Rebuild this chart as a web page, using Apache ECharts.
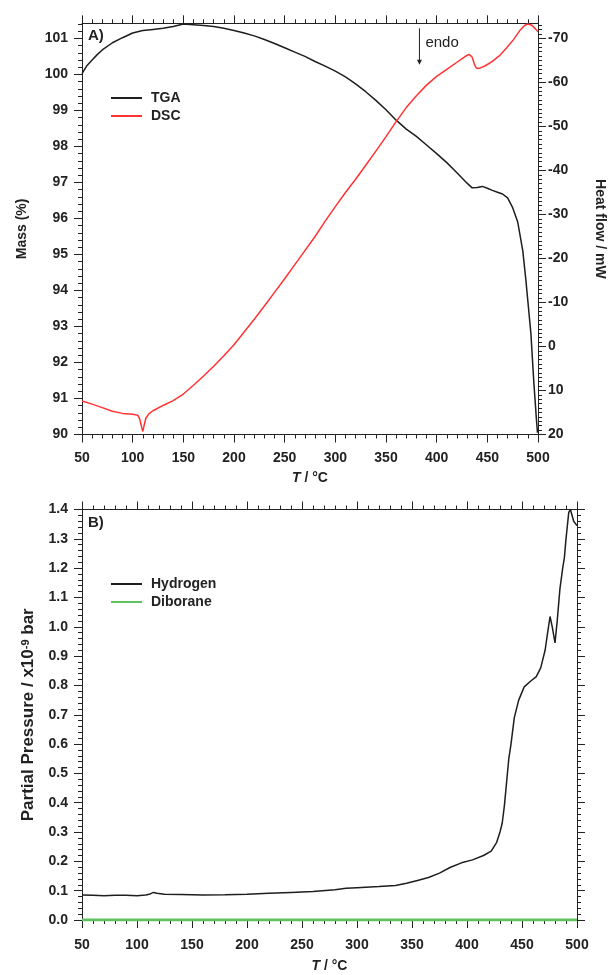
<!DOCTYPE html>
<html><head><meta charset="utf-8">
<script src="https://cdn.jsdelivr.net/npm/echarts@6/dist/echarts.min.js"></script>
<style>html,body{margin:0;padding:0;background:#fff}#c{width:615px;height:975px}</style>
</head><body><div id="c"></div>
<script>
// ---- data ----
const tgaTemp = [50,55,60,65,70,80,90,100,110,120,130,140,150,160,170,180,190,200,210,220,230,240,250,260,270,280,290,300,310,320,330,340,350,360,370,380,390,400,410,420,430,435,440,445,450,455,460,465,470,475,480,485,488,490,493,496,498.5,499.5];
const tgaMass = [100.02,100.25,100.40,100.55,100.68,100.88,101.02,101.15,101.22,101.25,101.28,101.33,101.40,101.38,101.36,101.33,101.28,101.22,101.15,101.07,100.97,100.86,100.74,100.62,100.50,100.36,100.23,100.09,99.93,99.74,99.52,99.28,99.02,98.73,98.48,98.28,98.04,97.80,97.55,97.27,96.98,96.85,96.86,96.89,96.84,96.78,96.73,96.68,96.57,96.30,95.90,95.10,94.30,93.70,92.80,91.40,90.40,90.05];

const dscTemp = [50,60,70,80,90,100,105,107,109,110,111,113,116,120,130,140,150,160,170,180,190,200,210,220,230,240,250,260,270,280,290,300,310,320,330,340,350,360,370,380,390,400,410,420,428,432,435,437,439,442,448,455,462,470,476,482,487,490,494,497,500];
const dscHeat = [12.4,13.1,13.9,14.7,15.2,15.4,15.6,16.5,18.5,19.3,18.2,16.3,15.3,14.6,13.4,12.3,10.8,8.8,6.7,4.5,2.1,-0.4,-3.3,-6.2,-9.2,-12.3,-15.4,-18.6,-21.8,-25.0,-28.5,-31.8,-35.0,-38.0,-41.2,-44.4,-47.7,-51.1,-54.3,-57.0,-59.4,-61.4,-63.0,-64.6,-65.9,-66.4,-65.8,-64.3,-63.3,-63.2,-63.8,-64.8,-66.1,-68.1,-69.8,-71.8,-73.0,-73.3,-73.0,-72.3,-71.5];

const h2Temp = [50,60,70,80,90,100,108,112,115,118,125,140,160,180,200,220,240,260,280,290,300,320,335,345,355,365,375,385,395,405,415,422,427,430,432,434,436,438,440,443,447,452,458,463,467,471,473.5,475.5,477.5,480,482,484.5,487,488.5,490,492.5,494,495.5,497,500];
const h2Press = [0.085,0.084,0.083,0.084,0.084,0.083,0.085,0.089,0.094,0.091,0.088,0.087,0.085,0.086,0.088,0.091,0.094,0.097,0.103,0.108,0.110,0.114,0.118,0.125,0.135,0.145,0.160,0.180,0.195,0.205,0.220,0.235,0.265,0.300,0.330,0.390,0.470,0.550,0.600,0.690,0.750,0.795,0.815,0.830,0.860,0.920,0.985,1.035,1.000,0.945,1.020,1.130,1.200,1.235,1.300,1.390,1.400,1.395,1.360,1.345];

const b2h6Temp = [50,100,150,200,250,300,350,400,450,500];
const b2h6Press = [0,0,0,0,0,0,0,0,0,0];

const tempTicks = [50,100,150,200,250,300,350,400,450,500];
const massTicks = [90,91,92,93,94,95,96,97,98,99,100,101];
const heatTicks = [-70,-60,-50,-40,-30,-20,-10,0,10,20];
const pressTicks = [0.0,0.1,0.2,0.3,0.4,0.5,0.6,0.7,0.8,0.9,1.0,1.1,1.2,1.3,1.4];

// ---- helpers ----
function steps(a, b, s) { const r = []; const n = Math.round((b - a) / s); for (let i = 0; i <= n; i++) r.push(+(a + i * s).toFixed(4)); return r; }
const FONT = 'Liberation Sans';
const INK = '#222';
const lbl = {fontFamily: FONT, fontWeight: 'bold', fontSize: 14, color: INK};

function majorAxis(o) {
  return Object.assign({
    type: 'value', scale: true, splitLine: {show: false},
    axisLine: {show: true, onZero: false, lineStyle: {color: INK, width: 1}},
    axisTick: {show: true, inside: false, length: 8, lineStyle: {color: INK}, customValues: o.ticks},
    axisLabel: o.labels ? Object.assign({customValues: o.ticks, margin: o.margin}, lbl, o.fmt ? {formatter: o.fmt} : {}) : {show: false}
  }, o.extra);
}
function minorAxis(o) {
  return Object.assign({
    type: 'value', scale: true, splitLine: {show: false},
    axisLine: {show: false, onZero: false},
    axisTick: {show: true, inside: false, length: 4, lineStyle: {color: INK}, customValues: o.ticks},
    axisLabel: {show: false}
  }, o.extra);
}

const tName = '{it|T} / °C';
const nameStyle = Object.assign({}, lbl, {rich: {it: Object.assign({}, lbl, {fontStyle: 'italic'})}});
const pStyle = Object.assign({}, lbl, {fontSize: 17, rich: {sup: {fontFamily: FONT, fontWeight: 'bold', fontSize: 11, color: INK, verticalAlign: 'top', lineHeight: 12}}});

const xAxes = [
  majorAxis({ticks: tempTicks, labels: true, margin: 17, extra: {gridIndex: 0, position: 'bottom', min: 50, max: 500, name: tName, nameLocation: 'middle', nameGap: 37, nameTextStyle: nameStyle}}),
  minorAxis({ticks: steps(50, 500, 10), extra: {gridIndex: 0, position: 'bottom', min: 50, max: 500}}),
  majorAxis({ticks: tempTicks, labels: false, extra: {gridIndex: 0, position: 'top', min: 50, max: 500}}),
  minorAxis({ticks: steps(50, 500, 10), extra: {gridIndex: 0, position: 'top', min: 50, max: 500}}),
  majorAxis({ticks: tempTicks, labels: true, margin: 18, extra: {gridIndex: 1, position: 'bottom', min: 50, max: 500, name: tName, nameLocation: 'middle', nameGap: 39, nameTextStyle: nameStyle}}),
  minorAxis({ticks: steps(50, 500, 10), extra: {gridIndex: 1, position: 'bottom', min: 50, max: 500}}),
  majorAxis({ticks: tempTicks, labels: false, extra: {gridIndex: 1, position: 'top', min: 50, max: 500}}),
  minorAxis({ticks: steps(50, 500, 10), extra: {gridIndex: 1, position: 'top', min: 50, max: 500}})
];

const MASS_MIN = 90, MASS_MAX = 101.42, HEAT_MIN = -73.45, HEAT_MAX = 20, P_MIN = 0, P_MAX = 1.4;
const yAxes = [
  majorAxis({ticks: massTicks, labels: true, margin: 14, extra: {gridIndex: 0, position: 'left', min: MASS_MIN, max: MASS_MAX, name: 'Mass (%)', nameLocation: 'middle', nameGap: 53, nameRotate: 90, nameTextStyle: lbl}}),
  minorAxis({ticks: steps(90, 101.4, 0.2), extra: {gridIndex: 0, position: 'left', min: MASS_MIN, max: MASS_MAX}}),
  majorAxis({ticks: heatTicks, labels: true, margin: 10, extra: {gridIndex: 0, position: 'right', inverse: true, min: HEAT_MIN, max: HEAT_MAX, name: 'Heat flow / mW', nameLocation: 'middle', nameGap: 55, nameRotate: -90, nameTextStyle: lbl}}),
  minorAxis({ticks: steps(-73, 20, 1), extra: {gridIndex: 0, position: 'right', inverse: true, min: HEAT_MIN, max: HEAT_MAX}}),
  majorAxis({ticks: pressTicks, labels: true, margin: 14, fmt: v => v.toFixed(1), extra: {gridIndex: 1, position: 'left', min: P_MIN, max: P_MAX,
    name: 'Partial Pressure / x10{sup|-9} bar', nameLocation: 'middle', nameGap: 45, nameRotate: 90, nameTextStyle: pStyle}}),
  minorAxis({ticks: steps(0, 1.4, 0.02), extra: {gridIndex: 1, position: 'left', min: P_MIN, max: P_MAX}}),
  majorAxis({ticks: pressTicks, labels: false, extra: {gridIndex: 1, position: 'right', min: P_MIN, max: P_MAX}}),
  minorAxis({ticks: steps(0, 1.4, 0.02), extra: {gridIndex: 1, position: 'right', min: P_MIN, max: P_MAX}})
];

const pairs = (xs, ys) => xs.map((x, i) => [x, ys[i]]);
const legendCommon = {orient: 'vertical', itemWidth: 31, itemHeight: 2, itemGap: 4, icon: 'rect',
  textStyle: Object.assign({}, lbl, {padding: [0, 0, 0, 4]})};

const chart = echarts.init(document.getElementById('c'), null, {renderer: 'canvas'});
chart.setOption({
  animation: false,
  backgroundColor: '#fff',
  grid: [
    {left: 82, right: 73, top: 23.3, height: 411.2},
    {left: 82, right: 38, top: 509.5, height: 410.5}
  ],
  xAxis: xAxes,
  yAxis: yAxes,
  legend: [
    Object.assign({data: ['TGA', 'DSC'], left: 106, top: 86}, legendCommon),
    Object.assign({data: ['Hydrogen', 'Diborane'], left: 106, top: 572, itemGap: 5}, legendCommon)
  ],
  series: [
    {name: 'TGA', type: 'line', xAxisIndex: 0, yAxisIndex: 0, symbol: 'none', color: '#1e1e1e', lineStyle: {width: 1.5}, data: pairs(tgaTemp, tgaMass)},
    {name: 'DSC', type: 'line', xAxisIndex: 0, yAxisIndex: 2, symbol: 'none', color: '#ff3333', lineStyle: {width: 1.5}, data: pairs(dscTemp, dscHeat)},
    {name: 'Hydrogen', type: 'line', xAxisIndex: 4, yAxisIndex: 4, symbol: 'none', color: '#1e1e1e', lineStyle: {width: 1.5}, data: pairs(h2Temp, h2Press)},
    {name: 'Diborane', type: 'line', xAxisIndex: 4, yAxisIndex: 4, symbol: 'none', color: '#5fc35f', lineStyle: {width: 3}, z: 1, data: pairs(b2h6Temp, b2h6Press)}
  ]
});

// annotations anchored in data coordinates
const a0 = chart.convertToPixel({xAxisIndex: 0, yAxisIndex: 0}, [50, MASS_MAX]);
const b0 = chart.convertToPixel({xAxisIndex: 4, yAxisIndex: 4}, [50, P_MAX]);
const endoTop = chart.convertToPixel({xAxisIndex: 0, yAxisIndex: 0}, [383, 101.28]);
const endoBot = chart.convertToPixel({xAxisIndex: 0, yAxisIndex: 0}, [383, 100.27]);
const tf = 'bold 15px "' + FONT + '"';
chart.setOption({
  graphic: [
    {type: 'text', left: a0[0] + 6, top: a0[1] + 5, style: {text: 'A)', font: tf, fill: INK}},
    {type: 'text', left: b0[0] + 6, top: b0[1] + 6, style: {text: 'B)', font: tf, fill: INK}},
    {type: 'line', shape: {x1: endoTop[0], y1: endoTop[1], x2: endoBot[0], y2: endoBot[1] - 4}, style: {stroke: INK, lineWidth: 1}},
    {type: 'polygon', shape: {points: [[endoBot[0] - 2.5, endoBot[1] - 5], [endoBot[0] + 2.5, endoBot[1] - 5], [endoBot[0], endoBot[1]]]}, style: {fill: INK}},
    {type: 'text', left: endoTop[0] + 6, top: endoTop[1] + 7, style: {text: 'endo', font: '15px "' + FONT + '"', fill: INK}}
  ]
});
</script></body></html>
